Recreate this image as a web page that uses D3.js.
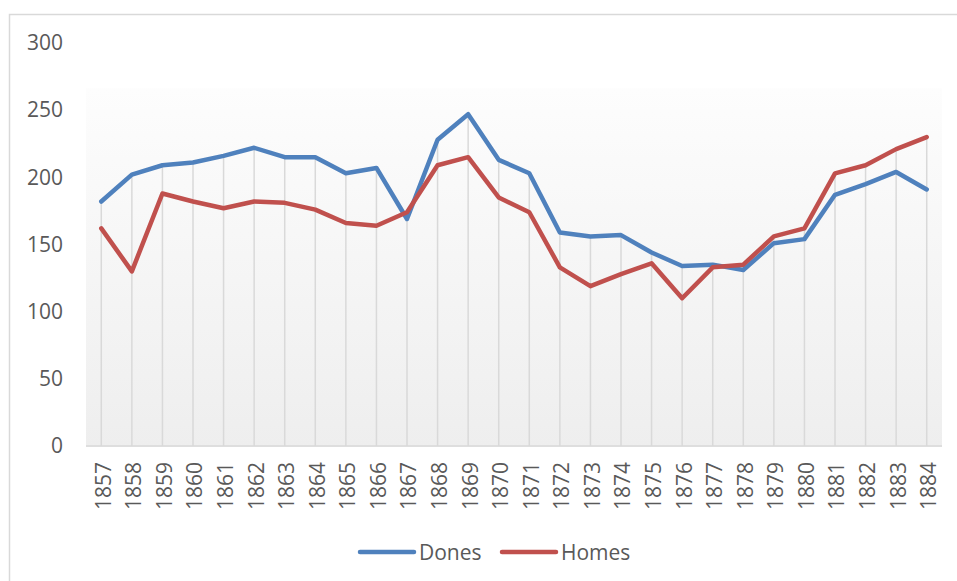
<!DOCTYPE html>
<html>
<head>
<meta charset="utf-8">
<script src="https://cdn.jsdelivr.net/npm/d3@7"></script>
<style>
  body { margin: 0; background: #fff; }
  svg { display: block; font-family: "Open Sans", "Liberation Sans", sans-serif; }
  .axis text { fill: #595959; font-size: 21px; font-family: "Open Sans", "Liberation Sans", sans-serif; }
</style>
</head>
<body>
<svg id="chart" width="957" height="581"></svg>
<script>
// Data
const years = d3.range(1857, 1885).map(String);
const dones = [182, 202, 209, 211, 216, 222, 215, 215, 203, 207, 169, 228, 247, 213,
               203, 159, 156, 157, 144, 134, 135, 131, 151, 154, 187, 195, 204, 191];
const homes = [162, 130, 188, 182, 177, 182, 181, 176, 166, 164, 174, 209, 215, 185,
               174, 133, 119, 128, 136, 110, 133, 135, 156, 162, 203, 209, 221, 230];
const seriesNames = ['Dones', 'Homes'];
const yTicks = [0, 50, 100, 150, 200, 250, 300];

(function() {
  const svg = d3.select('#chart');
  const colors = ['#4f81bd', '#c0504d'];
  const series = [dones, homes];

  // chart frame
  svg.append('rect').attr('x', 9.5).attr('y', 14.5).attr('width', 980).attr('height', 600)
    .attr('fill', '#fff').attr('stroke', '#d9d9d9').attr('stroke-width', 1.5);

  const x = d3.scaleBand().domain(years).range([86, 942]);
  const y = d3.scaleLinear().domain([0, 300]).range([446, 43]);
  const cx = d => x(d) + x.bandwidth() / 2;

  // plot area gradient
  const grad = svg.append('defs').append('linearGradient').attr('id', 'plotGrad')
    .attr('x1', 0).attr('y1', 0).attr('x2', 0).attr('y2', 1);
  grad.append('stop').attr('offset', '0%').attr('stop-color', '#fdfdfd');
  grad.append('stop').attr('offset', '100%').attr('stop-color', '#eeeeee');
  const gradTop = y(250) - 22;
  svg.append('rect').attr('x', x.range()[0]).attr('y', gradTop)
    .attr('width', x.range()[1] - x.range()[0]).attr('height', y(0) + 1 - gradTop)
    .attr('fill', 'url(#plotGrad)');

  // drop lines from the highest point of each category
  svg.append('g').selectAll('line').data(years).enter().append('line')
    .attr('x1', cx).attr('x2', cx)
    .attr('y1', (d, i) => y(Math.max(dones[i], homes[i])))
    .attr('y2', y(0))
    .attr('stroke', '#d9d9d9').attr('stroke-width', 1.5);

  // axis baseline
  svg.append('line').attr('x1', x.range()[0]).attr('x2', x.range()[1])
    .attr('y1', y(0)).attr('y2', y(0)).attr('stroke', '#d9d9d9').attr('stroke-width', 1.5);

  // y axis
  svg.append('g').attr('class', 'axis').attr('transform', `translate(${x.range()[0]},0)`)
    .call(d3.axisLeft(y).tickValues(yTicks).tickSize(0).tickPadding(23))
    .call(g => g.select('.domain').remove());

  // x axis, rotated labels
  svg.append('g').attr('class', 'axis').attr('transform', `translate(0,${y(0)})`)
    .call(d3.axisBottom(x).tickSize(0))
    .call(g => g.select('.domain').remove())
    .selectAll('text')
    .attr('transform', 'rotate(-90)')
    .attr('text-anchor', 'end')
    .attr('x', -16).attr('y', 0).attr('dy', '0.45em');

  // lines
  const line = d3.line().x((d, i) => cx(years[i])).y(d => y(d));
  svg.append('g').selectAll('path').data(series).enter().append('path')
    .attr('d', line)
    .attr('fill', 'none')
    .attr('stroke', (d, i) => colors[i])
    .attr('stroke-width', 4.5)
    .attr('stroke-linejoin', 'round')
    .attr('stroke-linecap', 'round');

  // legend
  const legendX = [360, 502];
  const legend = svg.append('g').selectAll('g').data(seriesNames).enter().append('g')
    .attr('transform', (d, i) => `translate(${legendX[i]},552)`);
  legend.append('line').attr('x1', 0).attr('x2', 54).attr('y1', 0).attr('y2', 0)
    .attr('stroke', (d, i) => colors[i]).attr('stroke-width', 4.5).attr('stroke-linecap', 'round');
  legend.append('text').attr('x', 59).attr('y', 7.5).attr('font-size', 21)
    .attr('fill', '#595959').text(d => d);
})();
</script>
</body>
</html>
